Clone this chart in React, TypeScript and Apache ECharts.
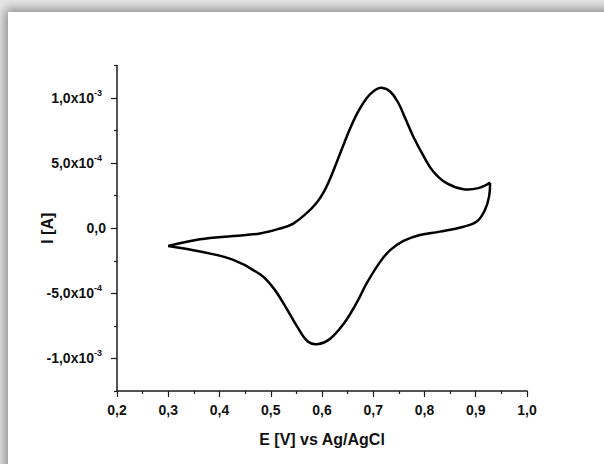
import React, { useEffect, useRef } from "react";
import * as echarts from "echarts";

// Forward (anodic) scan: potential (V vs Ag/AgCl) and current (A)
const forwardE = [
  0.300, 0.362, 0.427, 0.479, 0.518, 0.544, 0.570, 0.590, 0.603, 0.616,
  0.629, 0.642, 0.655, 0.671, 0.687, 0.703, 0.716, 0.733, 0.749, 0.762,
  0.778, 0.798, 0.817, 0.843, 0.876, 0.905, 0.928,
];
const forwardI = [
  -1.36e-4, -0.85e-4, -0.59e-4, -0.40e-4, -0.02e-4, 0.36e-4, 1.16e-4, 1.98e-4, 2.75e-4, 3.83e-4,
  5.10e-4, 6.41e-4, 7.68e-4, 8.99e-4, 9.99e-4, 10.60e-4, 10.79e-4, 10.50e-4, 9.62e-4, 8.48e-4,
  7.05e-4, 5.56e-4, 4.36e-4, 3.46e-4, 3.00e-4, 3.08e-4, 3.50e-4,
];
// Reverse (cathodic) scan
const reverseE = [
  0.928, 0.926, 0.918, 0.902, 0.876, 0.830, 0.791, 0.759, 0.733, 0.713,
  0.687, 0.668, 0.642, 0.616, 0.593, 0.573, 0.551, 0.528, 0.505, 0.479,
  0.427, 0.362, 0.300,
];
const reverseI = [
  3.50e-4, 2.43e-4, 1.41e-4, 0.51e-4, 0.12e-4, -0.26e-4, -0.52e-4, -0.97e-4, -1.68e-4, -2.60e-4,
  -4.24e-4, -5.70e-4, -7.35e-4, -8.48e-4, -8.89e-4, -8.72e-4, -7.52e-4, -5.98e-4, -4.58e-4, -3.54e-4,
  -2.43e-4, -1.79e-4, -1.36e-4,
];

const yMajorTicks = [-1e-3, -5e-4, 0, 5e-4, 1e-3];
const yMinorTicks = [-1.25e-3, -7.5e-4, -2.5e-4, 2.5e-4, 7.5e-4, 1.25e-3];
const yTickLabels: Record<string, string> = {
  "-0.001": "{m|-1,0x10}{s|-3}",
  "-0.0005": "{m|-5,0x10}{s|-4}",
  "0": "{z|0,0}",
  "0.0005": "{m|5,0x10}{s|-4}",
  "0.001": "{m|1,0x10}{s|-3}",
};

const FONT = "'Liberation Sans', Arial, sans-serif";

function curveSeries(xs: number[], ys: number[]) {
  const data = xs.map((e, i) => [e, ys[i]]);
  return {
    type: "custom",
    data,
    encode: { x: 0, y: 1 },
    yAxisIndex: 0,
    clip: false,
    renderItem: (params: any, api: any) => {
      if (params.dataIndex !== 0) return null;
      const pts = data.map((d) => api.coord(d));
      return {
        type: "polyline",
        shape: { points: pts, smooth: 0.4 },
        style: { stroke: "#000", lineWidth: 2.5, fill: null, lineJoin: "round" },
      };
    },
  };
}

export default function App() {
  const ref = useRef<HTMLDivElement>(null);
  useEffect(() => {
    if (!ref.current) return;
    const chart = echarts.init(ref.current, undefined, { renderer: "svg" });
    const axisColor = "#1a1a1a";
    chart.setOption({
      animation: false,
      backgroundColor: "transparent",
      grid: { left: 117, right: 77, top: 65.5, bottom: 73 },
      xAxis: {
        type: "value",
        min: 0.2,
        max: 1.0,
        interval: 0.1,
        name: "E [V] vs Ag/AgCl",
        nameLocation: "middle",
        nameGap: 40,
        nameTextStyle: { fontFamily: FONT, fontWeight: "bold", fontSize: 16, color: "#111" },
        axisLine: { onZero: false, lineStyle: { color: axisColor, width: 1.5 } },
        axisTick: { length: 6, lineStyle: { color: axisColor, width: 1.2 } },
        minorTick: { show: true, splitNumber: 2, length: 3, lineStyle: { color: axisColor, width: 1.2 } },
        splitLine: { show: false },
        axisLabel: {
          margin: 12,
          fontFamily: FONT,
          fontWeight: "bold",
          fontSize: 14,
          color: "#111",
          formatter: (v: number) => v.toFixed(1).replace(".", ","),
        },
      },
      yAxis: [
        {
          type: "value",
          min: -1.25e-3,
          max: 1.25e-3,
          name: "I [A]",
          nameLocation: "middle",
          nameGap: 62,
          nameMoveOverlap: false,
          nameTextStyle: { fontFamily: FONT, fontWeight: "bold", fontSize: 16, color: "#111" },
          axisLine: { show: true, onZero: false, lineStyle: { color: axisColor, width: 1.5 } },
          axisTick: { show: true, length: 6, customValues: yMajorTicks, lineStyle: { color: axisColor, width: 1.2 } },
          splitLine: { show: false },
          axisLabel: {
            margin: 11,
            customValues: yMajorTicks,
            formatter: (v: number) => yTickLabels[String(Math.round(v * 1e4) / 1e4)] ?? "",
            rich: {
              m: { fontFamily: FONT, fontWeight: "bold", fontSize: 14, color: "#111" },
              s: { fontFamily: FONT, fontWeight: "bold", fontSize: 9, color: "#111", padding: [0, 4, 10, 0] },
              z: { fontFamily: FONT, fontWeight: "bold", fontSize: 14, color: "#111" },
            },
          },
        },
        {
          type: "value",
          min: -1.25e-3,
          max: 1.25e-3,
          position: "left",
          axisLine: { show: false, onZero: false },
          axisTick: { show: true, length: 3, customValues: yMinorTicks, lineStyle: { color: axisColor, width: 1.2 } },
          axisLabel: { show: false },
          splitLine: { show: false },
        },
      ],
      series: [curveSeries(forwardE, forwardI), curveSeries(reverseE, reverseI)],
    });
    return () => chart.dispose();
  }, []);

  return (
    <div
      style={{
        position: "absolute",
        left: 0,
        top: 0,
        width: 604,
        height: 464,
        overflow: "hidden",
        background: "#e6e6e6",
      }}
    >
      <div
        style={{
          position: "absolute",
          left: 8,
          top: 12,
          width: 640,
          height: 500,
          background: "#fff",
          boxShadow: "0 0 10px 3px rgba(0,0,0,0.4)",
        }}
      />
      <div ref={ref} style={{ position: "absolute", left: 0, top: 0, width: 604, height: 464 }} />
    </div>
  );
}
